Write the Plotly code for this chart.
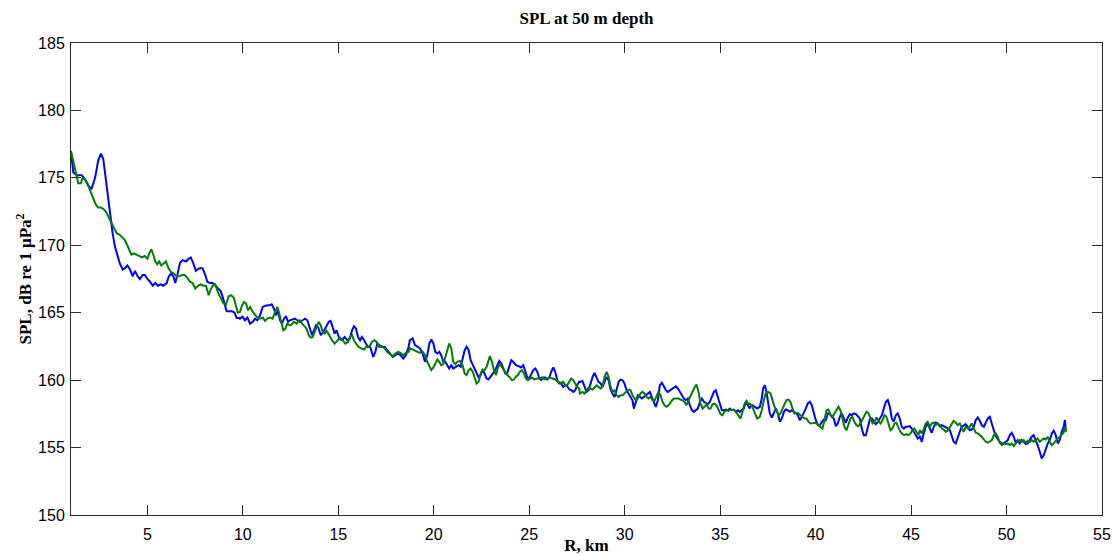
import plotly.graph_objects as go

# ---------------- data (range in km, SPL in dB re 1 uPa^2) ----------------
blue_r = [
    1.00, 1.12, 1.30, 1.56, 1.73, 1.91, 2.08, 2.26, 2.43, 2.57,
    2.69, 2.83, 2.95, 3.08, 3.18, 3.30, 3.43, 3.57, 3.71, 3.83,
    3.95, 4.09, 4.23, 4.35, 4.49, 4.61, 4.75, 4.87, 5.00, 5.14,
    5.28, 5.42, 5.55, 5.69, 5.83, 6.01, 6.13, 6.24, 6.36, 6.46,
    6.57, 6.71, 6.85, 7.02, 7.16, 7.27, 7.40, 7.54, 7.72, 7.89,
    8.03, 8.14, 8.28, 8.42, 8.56, 8.70, 8.84, 8.94, 9.05, 9.15,
    9.29, 9.43, 9.57, 9.67, 9.81,
    9.85, 9.99, 10.11, 10.24, 10.38, 10.52, 10.64, 10.76, 10.90, 11.04,
    11.21, 11.39, 11.51, 11.63, 11.74, 11.84, 11.95, 12.05, 12.16, 12.26,
    12.37, 12.47, 12.61, 12.73, 12.85, 12.99, 13.13, 13.26, 13.38, 13.52,
    13.62, 13.73, 13.83, 13.95, 14.08, 14.22, 14.36, 14.50, 14.60, 14.70,
    14.81, 14.91, 15.05, 15.19, 15.33, 15.47, 15.61, 15.72, 15.82, 15.93,
    16.03, 16.14, 16.24, 16.35, 16.45, 16.55, 16.66, 16.76, 16.83, 16.94,
    17.04, 17.15, 17.29, 17.43, 17.57, 17.71, 17.85, 17.99, 18.13, 18.26,
    18.40, 18.54, 18.68,
    18.75, 18.89, 19.02, 19.14, 19.28, 19.42, 19.54, 19.66, 19.77, 19.87,
    19.98, 20.08, 20.19, 20.29, 20.39, 20.50, 20.60, 20.71, 20.81, 20.92,
    21.02, 21.16, 21.30, 21.41, 21.51, 21.62, 21.72, 21.83, 21.93, 22.04,
    22.14, 22.24, 22.35, 22.45, 22.56, 22.66, 22.77, 22.87, 22.98, 23.08,
    23.22, 23.33, 23.43, 23.54, 23.64, 23.75, 23.85, 23.96, 24.06, 24.16,
    24.30, 24.44, 24.58, 24.69, 24.79, 24.90, 25.00, 25.11, 25.21, 25.32,
    25.42, 25.53, 25.63, 25.73, 25.84, 25.94, 26.05, 26.15, 26.26, 26.36,
    26.47, 26.57, 26.68, 26.78, 26.89, 26.99, 27.10, 27.20, 27.31, 27.41,
    27.51, 27.62,
    27.65, 27.79, 27.90, 28.00, 28.11, 28.21, 28.32, 28.42, 28.53, 28.63,
    28.74, 28.84, 28.95, 29.05, 29.16, 29.26, 29.36, 29.47, 29.57, 29.68,
    29.78, 29.89, 29.99, 30.10, 30.20, 30.31, 30.41, 30.48, 30.59, 30.69,
    30.80, 30.90, 31.01, 31.11, 31.21, 31.32, 31.42, 31.53, 31.63, 31.74,
    31.84, 31.95, 32.05, 32.16, 32.26, 32.37, 32.47, 32.58, 32.68, 32.79,
    32.89, 32.99, 33.10, 33.20, 33.31, 33.41, 33.52, 33.62, 33.73, 33.83,
    33.94, 34.04, 34.15, 34.25, 34.36, 34.46, 34.56, 34.67, 34.77, 34.88,
    34.98, 35.09, 35.19, 35.30, 35.40, 35.51, 35.61, 35.72, 35.82, 35.93,
    36.03, 36.14, 36.24, 36.35, 36.45, 36.55,
    36.56, 36.69, 36.82, 36.94, 37.08, 37.18, 37.25, 37.34, 37.43, 37.52,
    37.60, 37.71, 37.81, 37.92, 38.02, 38.13, 38.23, 38.34, 38.44, 38.54,
    38.65, 38.75, 38.86, 38.96, 39.07, 39.17, 39.28, 39.38, 39.49, 39.59,
    39.70, 39.80, 39.91, 40.01, 40.12, 40.22, 40.33, 40.43, 40.53, 40.64,
    40.74, 40.85, 40.95, 41.06, 41.16, 41.27, 41.37, 41.48, 41.58, 41.69,
    41.79, 41.89, 42.00, 42.11, 42.21, 42.31, 42.42, 42.52, 42.63, 42.73,
    42.84, 42.94, 43.05, 43.15, 43.26, 43.36, 43.47, 43.57, 43.68, 43.78,
    43.89, 43.99, 44.09, 44.20, 44.30, 44.41, 44.51, 44.62, 44.72, 44.83,
    44.93, 45.04, 45.14, 45.25, 45.35,
    45.46, 45.56, 45.66, 45.77, 45.87, 45.98, 46.08, 46.19, 46.29, 46.40,
    46.50, 46.61, 46.71, 46.82, 46.92, 47.03, 47.13, 47.23, 47.34, 47.44,
    47.55, 47.65, 47.76, 47.86, 47.97, 48.07, 48.18, 48.28, 48.39, 48.49,
    48.60, 48.70, 48.81, 48.91, 49.02, 49.12, 49.23, 49.33, 49.43, 49.54,
    49.64, 49.75, 49.85, 49.96, 50.06, 50.17, 50.27, 50.38, 50.48, 50.59,
    50.69, 50.80, 50.90, 51.01, 51.11, 51.21, 51.32, 51.42, 51.53, 51.63,
    51.74, 51.84, 51.95, 52.05, 52.16, 52.26, 52.37, 52.47, 52.58, 52.68,
    52.79, 52.89, 52.99, 53.06, 53.10,
]

blue_spl = [
    176.9, 175.4, 175.2, 175.2, 174.9, 174.4, 174.2, 175.0, 176.3, 176.8,
    176.4, 174.8, 173.1, 171.9, 170.9, 169.9, 169.2, 168.6, 168.2, 168.3,
    168.5, 168.2, 167.7, 168.1, 167.7, 167.5, 167.8, 167.8, 167.5, 167.3,
    167.0, 167.2, 167.0, 167.1, 167.0, 167.2, 167.7, 167.9, 167.7, 167.2,
    167.8, 168.7, 168.9, 168.8, 169.0, 169.1, 168.7, 168.1, 168.3, 168.3,
    167.8, 167.3, 167.2, 167.2, 167.0, 166.8, 166.6, 166.2, 165.5, 165.1,
    165.1, 165.1, 165.0, 164.6, 164.6,
    164.56, 164.70, 164.44, 164.64, 164.19, 164.32, 164.56, 164.44, 164.81, 165.43,
    165.53, 165.55, 165.63, 165.30, 164.81, 165.18, 164.44, 164.19, 164.56, 164.74,
    164.32, 164.44, 164.49, 164.56, 164.44, 164.32, 164.44, 164.56, 164.44, 163.70,
    163.33, 163.70, 164.07, 163.90, 163.33, 163.58, 163.95, 164.32, 164.39, 163.95,
    163.45, 163.70, 163.08, 162.96, 163.20, 162.96, 163.08, 163.70, 164.00, 163.82,
    163.20, 162.96, 163.20, 162.96, 162.71, 162.46, 162.51, 162.09, 161.72, 162.09,
    162.71, 162.59, 162.46, 162.46, 162.22, 161.97, 161.72, 161.85, 161.97, 161.85,
    161.60, 161.85, 162.46,
    162.96, 163.09, 162.59, 162.47, 162.35, 161.98, 161.36, 161.85, 162.72, 163.01,
    162.72, 162.10, 161.98, 162.10, 161.85, 161.36, 161.36, 161.11, 160.86, 161.11,
    160.86, 160.99, 161.11, 160.99, 161.60, 162.22, 162.47, 162.22, 161.48, 161.11,
    160.86, 160.49, 160.20, 160.37, 160.74, 160.49, 160.12, 160.05, 160.25, 160.49,
    160.74, 161.11, 161.43, 161.23, 160.86, 160.49, 160.54, 161.11, 161.48, 161.36,
    161.11, 161.04, 160.94, 161.11, 160.74, 160.20, 160.12, 160.49, 160.74, 160.86,
    160.62, 160.12, 160.00, 160.20, 160.20, 160.05, 160.20, 160.62, 160.94, 160.62,
    160.00, 159.75, 159.75, 159.50, 159.63, 159.55, 159.31, 159.26, 159.13, 159.26,
    159.63, 159.88,
    159.87, 159.94, 159.50, 159.13, 159.25, 159.75, 160.24, 160.54, 160.24, 159.87,
    159.75, 159.50, 159.87, 160.24, 159.99, 159.30, 159.01, 158.76, 159.25, 159.87,
    160.04, 159.99, 159.75, 159.25, 159.01, 158.76, 158.51, 157.89, 158.39, 158.88,
    158.76, 158.64, 158.76, 158.88, 159.01, 159.13, 158.76, 158.39, 158.02, 158.51,
    159.62, 159.80, 159.50, 159.25, 159.13, 159.25, 159.38, 159.45, 159.55, 159.38,
    159.13, 158.88, 158.64, 158.51, 158.64, 158.14, 157.77, 157.65, 157.77, 157.89,
    158.39, 158.64, 158.39, 158.31, 158.21, 158.39, 158.76, 159.13, 159.25, 158.76,
    158.14, 157.77, 157.77, 157.82, 157.77, 157.89, 157.77, 157.82, 157.65, 157.77,
    157.65, 157.77, 157.89, 158.39, 158.14, 157.89,
    158.02, 158.14, 158.02, 157.90, 158.02, 158.64, 159.38, 159.63, 159.13, 158.27,
    157.53, 157.23, 157.53, 157.90, 157.53, 156.91, 157.16, 157.65, 157.82, 157.77,
    157.65, 157.77, 157.65, 157.58, 157.40, 157.03, 157.28, 157.53, 157.90, 158.27,
    158.39, 158.14, 157.53, 157.03, 156.66, 156.66, 156.91, 157.08, 157.03, 157.53,
    157.53, 157.28, 157.16, 156.59, 156.79, 157.28, 157.53, 157.16, 156.84, 157.23,
    157.48, 157.40, 157.53, 157.48, 157.33, 157.16, 156.41, 155.92, 155.92, 156.54,
    157.08, 157.16, 156.91, 156.74, 156.91, 157.16, 157.40, 157.90, 158.39, 158.52,
    158.02, 157.16, 156.91, 157.40, 157.53, 157.16, 156.54, 156.41, 156.54, 156.54,
    156.59, 156.41, 156.17, 155.92, 155.67,
    155.80, 155.43, 156.05, 156.54, 156.79, 156.42, 156.10, 156.54, 156.86, 156.79,
    156.59, 156.67, 156.59, 156.54, 156.42, 156.30, 155.80, 155.43, 155.31, 155.80,
    156.17, 156.54, 156.67, 156.74, 156.54, 156.30, 156.34, 156.54, 157.04, 157.23,
    156.99, 156.67, 156.54, 156.79, 157.16, 157.28, 156.84, 156.30, 155.85, 155.60,
    155.43, 155.31, 155.31, 155.43, 155.55, 155.92, 156.10, 155.80, 155.36, 155.55,
    155.31, 155.55, 155.43, 155.26, 155.31, 155.55, 155.80, 155.92, 155.55, 155.18,
    154.69, 154.19, 154.44, 154.94, 155.31, 155.55, 156.05, 156.25, 155.92, 155.31,
    155.55, 156.17, 156.54, 157.04, 156.30,
]

green_r = [
    1.00, 1.12, 1.26, 1.38, 1.51, 1.61, 1.73, 1.86, 1.99, 2.13,
    2.27, 2.41, 2.55, 2.69, 2.83, 2.97, 3.11, 3.25, 3.39, 3.53,
    3.67, 3.81, 3.95, 4.05, 4.16, 4.30, 4.44, 4.58, 4.72, 4.86,
    5.00, 5.10, 5.21, 5.31, 5.42, 5.52, 5.62, 5.73, 5.83, 5.97,
    6.11, 6.25, 6.39, 6.53, 6.67, 6.81, 6.95, 7.09, 7.23, 7.37,
    7.51, 7.65, 7.79, 7.93, 8.07, 8.21, 8.31, 8.42, 8.56, 8.70,
    8.84, 8.98, 9.12, 9.25, 9.39, 9.53, 9.64, 9.74,
    9.85, 9.96, 10.06, 10.17, 10.27, 10.38, 10.52, 10.64, 10.76, 10.90,
    11.04, 11.16, 11.28, 11.42, 11.56, 11.69, 11.81, 11.91, 12.02, 12.12,
    12.23, 12.33, 12.44, 12.56, 12.68, 12.82, 12.96, 13.10, 13.24, 13.34,
    13.45, 13.55, 13.66, 13.76, 13.87, 13.97, 14.08, 14.18, 14.29, 14.39,
    14.53, 14.67, 14.81, 14.95, 15.09, 15.23, 15.37, 15.51, 15.61, 15.72,
    15.82, 15.93, 16.07, 16.21, 16.35, 16.48, 16.62, 16.76, 16.90, 17.01,
    17.15, 17.29, 17.43, 17.57, 17.71, 17.85, 17.99, 18.13, 18.26, 18.40,
    18.54, 18.68,
    18.75, 18.89, 19.02, 19.14, 19.28, 19.42, 19.54, 19.66, 19.77, 19.87,
    19.98, 20.08, 20.19, 20.29, 20.39, 20.50, 20.60, 20.71, 20.81, 20.92,
    21.02, 21.13, 21.23, 21.37, 21.51, 21.62, 21.72, 21.83, 21.93, 22.04,
    22.14, 22.24, 22.35, 22.45, 22.56, 22.66, 22.77, 22.87, 22.94, 23.05,
    23.15, 23.26, 23.36, 23.47, 23.57, 23.68, 23.78, 23.88, 23.99, 24.09,
    24.20, 24.30, 24.41, 24.51, 24.62, 24.72, 24.83, 24.93, 25.04, 25.14,
    25.25, 25.39, 25.53, 25.66, 25.80, 25.94, 26.08, 26.22, 26.36, 26.50,
    26.64, 26.78, 26.89, 26.99, 27.10, 27.20, 27.31, 27.41, 27.51, 27.62,
    27.65, 27.79, 27.90, 28.00, 28.11, 28.21, 28.32, 28.42, 28.53, 28.63,
    28.74, 28.84, 28.95, 29.05, 29.16, 29.26, 29.36, 29.47, 29.57, 29.68,
    29.78, 29.89, 29.99, 30.10, 30.20, 30.31, 30.41, 30.52, 30.62, 30.73,
    30.83, 30.93, 31.04, 31.14, 31.25, 31.35, 31.46, 31.56, 31.67, 31.77,
    31.88, 31.98, 32.09, 32.19, 32.30, 32.40, 32.51, 32.61, 32.72, 32.82,
    32.92, 33.03, 33.13, 33.24, 33.34, 33.45, 33.55, 33.66, 33.76, 33.87,
    33.97, 34.08, 34.18, 34.29, 34.39, 34.50, 34.60, 34.70, 34.81, 34.91,
    35.02, 35.12, 35.23, 35.33, 35.44, 35.54, 35.65, 35.75, 35.86, 35.96,
    36.07, 36.17, 36.28, 36.38, 36.49,
    36.56, 36.69, 36.82, 36.94, 37.08, 37.18, 37.29, 37.39, 37.52, 37.64,
    37.74, 37.85, 37.95, 38.06, 38.16, 38.27, 38.37, 38.47, 38.58, 38.68,
    38.79, 38.89, 39.00, 39.10, 39.21, 39.31, 39.42, 39.52, 39.63, 39.73,
    39.84, 39.94, 40.05, 40.15, 40.25, 40.36, 40.46, 40.57, 40.67, 40.78,
    40.88, 40.99, 41.09, 41.20, 41.30, 41.41, 41.51, 41.62, 41.72, 41.83,
    41.93, 42.03, 42.14, 42.24, 42.35, 42.45, 42.56, 42.66, 42.77, 42.87,
    42.98, 43.08, 43.19, 43.29, 43.40, 43.50, 43.61, 43.71, 43.82, 43.92,
    44.02, 44.13, 44.23, 44.34, 44.44, 44.55, 44.65, 44.76, 44.86, 44.97,
    45.07, 45.18, 45.28, 45.39,
    45.46, 45.56, 45.66, 45.77, 45.87, 45.98, 46.08, 46.19, 46.29, 46.40,
    46.50, 46.61, 46.71, 46.82, 46.92, 47.03, 47.13, 47.23, 47.34, 47.44,
    47.55, 47.65, 47.76, 47.86, 47.97, 48.07, 48.18, 48.28, 48.39, 48.49,
    48.60, 48.70, 48.81, 48.91, 49.02, 49.12, 49.23, 49.33, 49.43, 49.54,
    49.64, 49.75, 49.85, 49.96, 50.06, 50.17, 50.27, 50.38, 50.48, 50.59,
    50.69, 50.80, 50.90, 51.01, 51.11, 51.21, 51.32, 51.42, 51.53, 51.63,
    51.74, 51.84, 51.95, 52.05, 52.16, 52.26, 52.37, 52.47, 52.58, 52.68,
    52.79, 52.89, 52.99, 53.06, 53.13,
]

green_spl = [
    177.0, 176.3, 175.4, 174.6, 174.6, 175.0, 174.9, 174.6, 174.1, 173.6,
    173.1, 172.8, 172.8, 172.7, 172.5, 172.1, 171.7, 171.3, 170.9, 170.8,
    170.6, 170.4, 170.0, 169.7, 169.3, 169.4, 169.3, 169.2, 169.1, 169.2,
    169.0, 169.4, 169.7, 169.3, 168.8, 168.6, 168.8, 168.5, 168.6, 168.8,
    168.3, 168.0, 167.9, 167.7, 167.7, 167.8, 167.8, 167.6, 167.3, 167.2,
    166.8, 167.0, 167.1, 167.0, 167.0, 166.3, 166.7, 167.0, 167.1, 166.5,
    166.1, 165.7, 165.6, 166.2, 166.3, 166.1, 165.5, 165.0,
    165.06, 165.55, 165.80, 165.68, 165.18, 165.43, 165.06, 164.81, 164.64, 164.56,
    164.64, 164.39, 164.56, 164.64, 164.56, 165.06, 165.43, 164.93, 164.19, 163.70,
    163.82, 164.19, 164.07, 164.14, 164.32, 164.19, 164.44, 164.19, 163.95, 163.82,
    163.33, 163.15, 163.20, 163.58, 164.07, 164.32, 164.07, 163.58, 163.45, 163.65,
    163.33, 162.96, 162.71, 162.96, 163.15, 162.96, 162.71, 162.83, 163.20, 163.33,
    162.96, 162.71, 162.46, 162.34, 162.27, 162.51, 162.46, 162.83, 162.96, 162.83,
    162.46, 162.51, 162.34, 162.09, 161.92, 161.77, 161.97, 162.09, 162.02, 161.85,
    162.02, 162.09,
    162.35, 162.27, 162.22, 162.10, 162.02, 162.10, 161.85, 161.36, 160.99, 160.74,
    160.94, 161.23, 161.53, 161.36, 161.11, 161.18, 161.73, 162.35, 162.72, 162.35,
    161.36, 161.18, 161.36, 161.43, 161.11, 160.49, 160.37, 160.74, 160.86, 160.62,
    160.20, 159.75, 159.88, 160.49, 160.79, 160.74, 160.99, 161.48, 161.78, 161.36,
    160.74, 160.37, 160.94, 161.18, 160.99, 160.74, 160.49, 160.37, 160.20, 160.00,
    160.05, 160.25, 160.37, 160.62, 160.74, 160.49, 160.12, 160.00, 160.12, 160.20,
    160.05, 160.12, 160.12, 160.20, 160.05, 160.12, 160.20, 160.12, 160.05, 159.88,
    159.80, 159.88, 159.63, 159.63, 159.88, 160.12, 160.00, 159.70, 159.50, 159.38,
    159.00, 159.13, 159.01, 159.25, 159.45, 159.38, 159.30, 159.45, 159.62, 159.50,
    159.38, 159.55, 160.24, 160.61, 160.24, 159.50, 159.13, 159.25, 158.88, 158.76,
    158.88, 158.88, 159.01, 159.13, 159.30, 159.25, 158.88, 158.64, 158.51, 158.76,
    159.01, 159.13, 159.01, 158.76, 158.64, 158.76, 158.51, 158.46, 158.76, 159.13,
    158.88, 158.39, 158.14, 158.02, 158.14, 158.39, 158.56, 158.64, 158.64, 158.64,
    158.56, 158.51, 158.39, 158.14, 158.51, 158.88, 159.13, 159.45, 159.67, 159.13,
    158.26, 157.89, 158.02, 158.21, 157.89, 157.89, 158.21, 158.26, 158.14, 157.77,
    157.47, 157.40, 157.65, 157.77, 157.72, 157.82, 157.77, 157.77, 157.57, 157.32,
    157.15, 157.65, 158.26, 158.46, 158.21,
    158.27, 158.02, 157.53, 157.16, 157.28, 157.77, 158.52, 159.01, 159.13, 159.01,
    158.52, 158.02, 157.77, 157.40, 157.53, 157.90, 158.27, 158.52, 158.56, 158.39,
    157.90, 157.53, 157.58, 157.53, 157.40, 157.28, 157.16, 157.16, 156.91, 156.79,
    156.84, 156.84, 156.79, 156.66, 156.54, 156.41, 157.03, 157.77, 157.82, 157.40,
    157.28, 157.53, 157.82, 158.02, 157.77, 157.16, 156.54, 156.29, 156.66, 157.16,
    157.28, 156.91, 156.66, 156.59, 156.79, 157.08, 157.40, 157.65, 157.53, 157.16,
    156.79, 156.91, 157.23, 156.98, 156.79, 157.03, 157.40, 157.28, 156.66, 156.29,
    156.41, 156.79, 156.84, 156.54, 156.17, 156.00, 155.92, 156.00, 155.92, 156.04,
    156.29, 156.41, 156.17, 155.92,
    156.30, 156.05, 156.34, 156.79, 156.91, 156.54, 156.79, 156.84, 156.67, 156.79,
    156.67, 156.42, 156.34, 156.17, 156.25, 156.54, 156.79, 156.99, 156.84, 156.67,
    156.79, 156.49, 156.17, 156.54, 156.42, 156.54, 156.79, 156.42, 156.10, 156.05,
    155.92, 155.80, 155.60, 155.43, 155.36, 155.43, 155.55, 155.92, 156.05, 155.80,
    155.36, 155.18, 155.31, 155.26, 155.31, 155.18, 155.31, 155.11, 155.31, 155.43,
    155.55, 155.43, 155.55, 155.36, 155.50, 155.43, 155.55, 155.43, 155.55, 155.68,
    155.43, 155.55, 155.68, 155.60, 155.80, 155.43, 155.18, 155.31, 155.55, 155.68,
    155.80, 155.92, 156.10, 156.54, 156.17,
]

x_ticks = [5, 10, 15, 20, 25, 30, 35, 40, 45, 50, 55]
y_ticks = [150, 155, 160, 165, 170, 175, 180, 185]

n_b = min(len(blue_r), len(blue_spl))
n_g = min(len(green_r), len(green_spl))

fig = go.Figure()
fig.add_trace(go.Scatter(x=blue_r[:n_b], y=blue_spl[:n_b], mode="lines",
                         line=dict(color="#0000FF", width=2), showlegend=False))
fig.add_trace(go.Scatter(x=green_r[:n_g], y=green_spl[:n_g], mode="lines",
                         line=dict(color="#008000", width=2), showlegend=False))

serif = "Liberation Serif, Times New Roman, serif"
sans = "Liberation Sans, Arial, sans-serif"

axis_common = dict(
    showgrid=False, zeroline=False, showline=True, linecolor="#2b2b2b", linewidth=1,
    mirror="ticks", ticks="inside", ticklen=10, tickwidth=1, tickcolor="#2b2b2b",
    tickfont=dict(family=sans, size=16, color="#000000"),
    automargin=False,
)

fig.update_layout(
    width=1112, height=555,
    margin=dict(l=71, r=10, t=43, b=40),
    paper_bgcolor="#FFFFFF", plot_bgcolor="#FFFFFF",
    title=dict(text="<b>SPL at 50 m depth</b>", x=0.5, xref="paper",
               y=1 - 18 / 555, yref="container", yanchor="middle",
               font=dict(family=serif, size=17, color="#000000")),
    xaxis=dict(range=[1, 55], tickvals=x_ticks, ticklabelstandoff=5,
               title=dict(text="<b>R, km</b>", standoff=1,
                          font=dict(family=serif, size=17, color="#000000")),
               **axis_common),
    yaxis=dict(range=[150, 185], tickvals=y_ticks, ticklabelstandoff=2,
               title=dict(text="<b>SPL, dB re 1 μPa<sup>2</sup></b>", standoff=2,
                          font=dict(family=serif, size=17, color="#000000")),
               **axis_common),
)

fig.write_html("out.html")
